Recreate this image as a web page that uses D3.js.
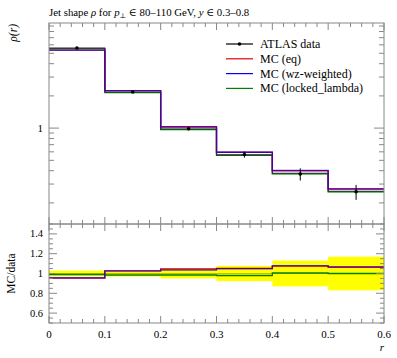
<!DOCTYPE html>
<html>
<head>
<meta charset="utf-8">
<script src="https://cdn.jsdelivr.net/npm/d3@7"></script>
<style>
  body { margin: 0; background: #fff; }
  text { font-family: "Liberation Serif", "DejaVu Serif", serif; fill: #000; }
</style>
</head>
<body>
<div id="chart"></div>
<script>
// bins in r
var binEdges = [0, 0.1, 0.2, 0.3, 0.4, 0.5, 0.6];

// ATLAS data rho(r) and relative errors
var dataVals = [5.6, 2.18, 0.985, 0.567, 0.372, 0.254];
var dataErrs = [0.012, 0.02, 0.03, 0.065, 0.13, 0.16];

// MC predictions
var mcEq = [5.35, 2.24, 1.03, 0.595, 0.400, 0.270];
var mcWz = [5.35, 2.24, 1.02, 0.595, 0.402, 0.270];
var mcLocked = [5.54, 2.15, 0.97, 0.556, 0.374, 0.254];

// ratios MC / data
var ratioEq = [0.955, 1.027, 1.045, 1.05, 1.075, 1.065];
var ratioWz = [0.955, 1.027, 1.035, 1.05, 1.08, 1.065];
var ratioLocked = [0.99, 0.985, 0.985, 0.98, 1.005, 1.0];
var ratioBand = [0.03, 0.03, 0.05, 0.077, 0.13, 0.17];

var xTicks = [0, 0.1, 0.2, 0.3, 0.4, 0.5, 0.6];
var ratioTicks = [0.6, 0.8, 1, 1.2, 1.4];

var series = [
  {name: "ATLAS data", color: "#000"},
  {name: "MC (eq)", color: "#e00000"},
  {name: "MC (wz-weighted)", color: "#0000ff"},
  {name: "MC (locked_lambda)", color: "#008000"}
];

var W = 397, H = 358;
var left = 49, right = 384, mainTop = 23, mainBot = 224, ratBot = 323;
var axisCol = "#888";

var svg = d3.select("#chart").append("svg")
  .attr("width", W).attr("height", H);

var x = d3.scaleLinear().domain([0, 0.6]).range([left, right]);
var y = d3.scaleLog().domain([0.127, 9.6]).range([mainBot, mainTop]);
var yr = d3.scaleLinear().domain([0.5, 1.5]).range([ratBot, mainBot]);

// step path builder
function stepPath(vals, ys) {
  var p = "";
  vals.forEach(function(v, i) {
    var x0 = x(binEdges[i]), x1 = x(binEdges[i + 1]);
    p += (i === 0 ? "M" : "L") + x0 + "," + ys(v) + "L" + x1 + "," + ys(v);
  });
  return p;
}

// ---- main panel ----
var gMain = svg.append("g");

// green band around locked_lambda
gMain.selectAll(".gband").data(mcLocked).enter().append("rect")
  .attr("x", function(d, i) { return x(binEdges[i]); })
  .attr("width", function(d, i) { return x(binEdges[i + 1]) - x(binEdges[i]); })
  .attr("y", function(d) { return y(d * 1.012); })
  .attr("height", function(d) { return y(d / 1.012) - y(d * 1.012); })
  .attr("fill", "#4caf50").attr("opacity", 0.45);

gMain.append("path").attr("d", stepPath(mcLocked, y))
  .attr("fill", "none").attr("stroke", "#008000").attr("stroke-width", 1.3);
gMain.append("path").attr("d", stepPath(mcLocked.map(function(v) { return v * 1.012; }), y))
  .attr("fill", "none").attr("stroke", "#223030").attr("stroke-width", 1.1);
gMain.append("path").attr("d", stepPath(mcEq, y))
  .attr("fill", "none").attr("stroke", "#e00000").attr("stroke-width", 1.4);
gMain.append("path").attr("d", stepPath(mcWz, y))
  .attr("fill", "none").attr("stroke", "#0000ff").attr("stroke-width", 1.3).attr("opacity", 0.7);

// data points
var pts = gMain.selectAll(".pt").data(dataVals).enter().append("g");
pts.append("line")
  .attr("x1", function(d, i) { return x((binEdges[i] + binEdges[i + 1]) / 2); })
  .attr("x2", function(d, i) { return x((binEdges[i] + binEdges[i + 1]) / 2); })
  .attr("y1", function(d, i) { return y(d * (1 + dataErrs[i])); })
  .attr("y2", function(d, i) { return y(d * (1 - dataErrs[i])); })
  .attr("stroke", "#000").attr("stroke-width", 1);
pts.append("circle")
  .attr("cx", function(d, i) { return x((binEdges[i] + binEdges[i + 1]) / 2); })
  .attr("cy", function(d) { return y(d); })
  .attr("r", 1.8).attr("fill", "#000");

// main frame
gMain.append("rect").attr("x", left).attr("y", mainTop)
  .attr("width", right - left).attr("height", mainBot - mainTop)
  .attr("fill", "none").attr("stroke", axisCol).attr("stroke-width", 1);

// main x ticks (top and bottom)
var xMinor = d3.range(0, 0.6001, 0.02);
xMinor.forEach(function(t) {
  var major = Math.abs(Math.round(t * 10) - t * 10) < 1e-6;
  var len = major ? 7 : 4;
  [[mainTop, 1], [mainBot, -1]].forEach(function(s) {
    svg.append("line").attr("x1", x(t)).attr("x2", x(t))
      .attr("y1", s[0]).attr("y2", s[0] + s[1] * len)
      .attr("stroke", axisCol).attr("stroke-width", 1);
  });
});

// main y ticks (log)
var yTicks = [];
[0.1, 1].forEach(function(dec) {
  for (var k = 1; k <= 9; k++) yTicks.push(k * dec);
});
yTicks.filter(function(t) { return t >= 0.127 && t <= 9.6; }).forEach(function(t) {
  var len = Math.abs(t - 1) < 1e-9 ? 10 : 5;
  svg.append("line").attr("x1", left).attr("x2", left + len)
    .attr("y1", y(t)).attr("y2", y(t)).attr("stroke", axisCol);
  svg.append("line").attr("x1", right).attr("x2", right - len)
    .attr("y1", y(t)).attr("y2", y(t)).attr("stroke", axisCol);
});
svg.append("text").attr("x", left - 6).attr("y", y(1) + 4)
  .attr("text-anchor", "end").attr("font-size", 11).text("1");

// ---- ratio panel ----
var gRat = svg.append("g");
gRat.selectAll(".yband").data(ratioBand).enter().append("rect")
  .attr("x", function(d, i) { return x(binEdges[i]); })
  .attr("width", function(d, i) { return x(binEdges[i + 1]) - x(binEdges[i]); })
  .attr("y", function(d) { return yr(1 + d); })
  .attr("height", function(d) { return yr(1 - d) - yr(1 + d); })
  .attr("fill", "#ffff00");

gRat.append("line").attr("x1", left).attr("x2", right)
  .attr("y1", yr(1)).attr("y2", yr(1)).attr("stroke", "#000").attr("stroke-width", 0.6).attr("opacity", 0.4);
gRat.append("path").attr("d", stepPath(ratioLocked, yr))
  .attr("fill", "none").attr("stroke", "#008000").attr("stroke-width", 1.3);
gRat.append("path").attr("d", stepPath(ratioEq, yr))
  .attr("fill", "none").attr("stroke", "#e00000").attr("stroke-width", 1.4);
gRat.append("path").attr("d", stepPath(ratioWz, yr))
  .attr("fill", "none").attr("stroke", "#0000ff").attr("stroke-width", 1.3).attr("opacity", 0.7);

gRat.append("rect").attr("x", left).attr("y", mainBot)
  .attr("width", right - left).attr("height", ratBot - mainBot)
  .attr("fill", "none").attr("stroke", axisCol).attr("stroke-width", 1);

xMinor.forEach(function(t) {
  var major = Math.abs(Math.round(t * 10) - t * 10) < 1e-6;
  var len = major ? 7 : 4;
  [[mainBot, 1], [ratBot, -1]].forEach(function(s) {
    svg.append("line").attr("x1", x(t)).attr("x2", x(t))
      .attr("y1", s[0]).attr("y2", s[0] + s[1] * len)
      .attr("stroke", axisCol).attr("stroke-width", 1);
  });
});

d3.range(0.5, 1.5001, 0.05).forEach(function(t) {
  var major = ratioTicks.some(function(m) { return Math.abs(m - t) < 1e-6; });
  var len = major ? 8 : 4;
  svg.append("line").attr("x1", left).attr("x2", left + len)
    .attr("y1", yr(t)).attr("y2", yr(t)).attr("stroke", axisCol);
  svg.append("line").attr("x1", right).attr("x2", right - len)
    .attr("y1", yr(t)).attr("y2", yr(t)).attr("stroke", axisCol);
});

ratioTicks.forEach(function(t) {
  svg.append("text").attr("x", left - 6).attr("y", yr(t) + 3.5)
    .attr("text-anchor", "end").attr("font-size", 10.5).text(t === 1 ? "1" : t.toFixed(1));
});

xTicks.forEach(function(t) {
  svg.append("text").attr("x", x(t)).attr("y", 338)
    .attr("text-anchor", "middle").attr("font-size", 11).text(t === 0 ? "0" : t.toFixed(1));
});

// axis labels
svg.append("text").attr("x", right).attr("y", 351).attr("text-anchor", "end")
  .attr("font-size", 11).attr("font-style", "italic").text("r");
svg.append("text").attr("transform", "translate(17,24) rotate(-90)")
  .attr("text-anchor", "end").attr("font-size", 11.5).attr("font-style", "italic").text("ρ(r)");
svg.append("text").attr("transform", "translate(15," + yr(1) + ") rotate(-90)")
  .attr("text-anchor", "middle").attr("font-size", 11.5).text("MC/data");

// title
var title = svg.append("text").attr("x", left).attr("y", 16).attr("font-size", 10.8);
title.append("tspan").text("Jet shape ");
title.append("tspan").attr("font-style", "italic").text("ρ");
title.append("tspan").text(" for ");
title.append("tspan").attr("font-style", "italic").text("p");
title.append("tspan").attr("font-size", 7).attr("dy", 2).text("⊥");
title.append("tspan").attr("dy", -2).text(" ∈ 80–110 GeV, ");
title.append("tspan").attr("font-style", "italic").text("y");
title.append("tspan").text(" ∈ 0.3–0.8");

// legend
var leg = svg.append("g");
series.forEach(function(s, i) {
  var ly = 44 + i * 14.8;
  leg.append("line").attr("x1", 226).attr("x2", 253).attr("y1", ly).attr("y2", ly)
    .attr("stroke", s.color).attr("stroke-width", 1.2);
  if (i === 0) leg.append("circle").attr("cx", 239.5).attr("cy", ly).attr("r", 1.8).attr("fill", "#000");
  leg.append("text").attr("x", 260).attr("y", ly + 4).attr("font-size", 12).text(s.name);
});
</script>
</body>
</html>
